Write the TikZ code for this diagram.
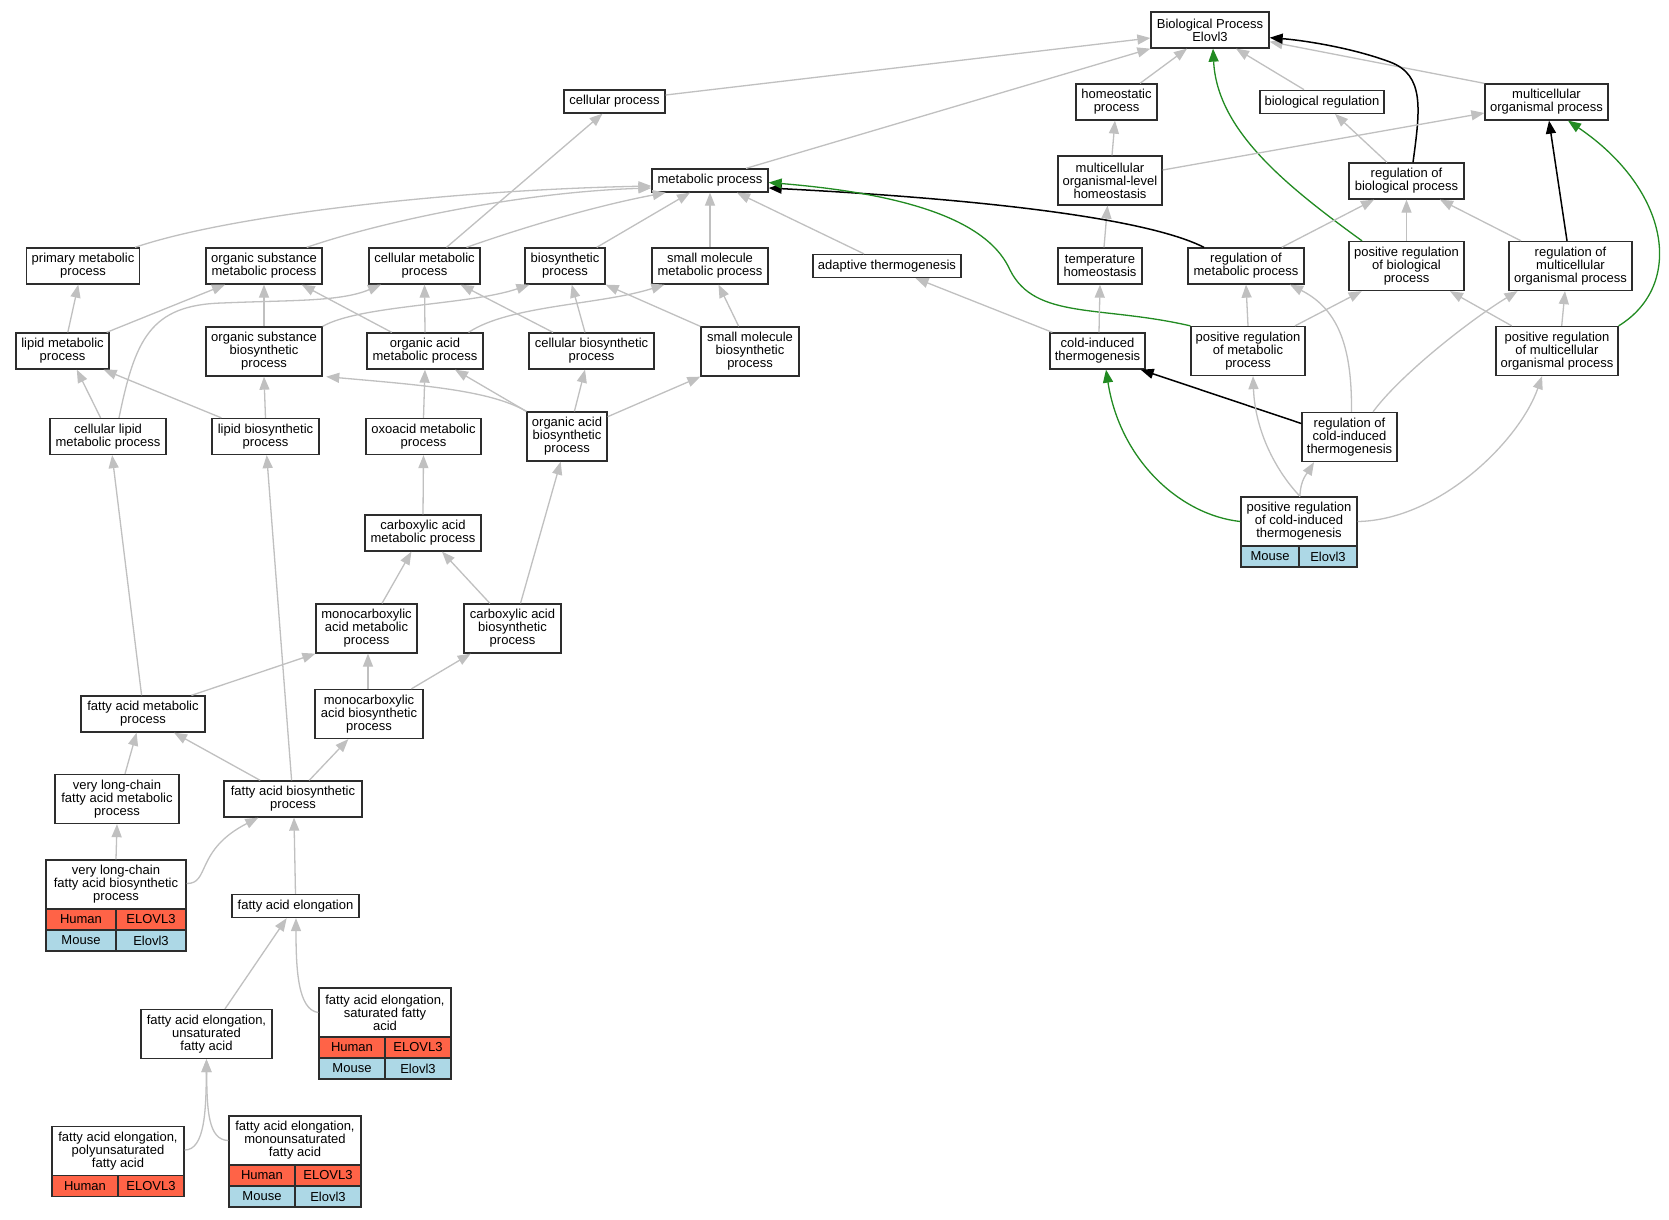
\documentclass[tikz,border=0pt]{standalone}
\usepackage{fontspec}
\setmainfont{Liberation Sans}
\usetikzlibrary{arrows.meta}
\definecolor{edgegray}{RGB}{192,192,192}
\definecolor{gogreen}{RGB}{34,139,34}
\definecolor{humanred}{RGB}{255,99,71}
\definecolor{mouseblue}{RGB}{173,216,230}
\definecolor{boxline}{RGB}{45,45,45}
\begin{document}
\begin{tikzpicture}[x=1pt,y=-1pt,
  gonode/.style={draw=boxline, line width=1.3pt, fill=white, inner sep=0pt, align=center, font=\fontsize{13}{13}\selectfont},
  hcell/.style={gonode, fill=humanred, minimum height=21pt},
  mcell/.style={gonode, fill=mouseblue, minimum height=21pt},
  gedge/.style={draw=edgegray, line width=1.3pt, -{Triangle[length=13pt,width=10pt]}},
  bedge/.style={draw=black, line width=1.5pt, -{Triangle[length=13pt,width=10pt]}},
  gredge/.style={draw=gogreen, line width=1.3pt, -{Triangle[length=13pt,width=10pt]}}]
\fill[white] (0,0) rectangle (1669,1219);
\useasboundingbox (0,0) rectangle (1669,1219);

% ---------- nodes ----------
\node[gonode, minimum width=118pt, minimum height=36pt] (bp) at (1210,30) {Biological Process\\Elovl3};
\node[gonode, minimum width=101pt, minimum height=23pt] (cellproc) at (614.5,101.5) {cellular process};
\node[gonode, minimum width=81pt, minimum height=36pt] (homeo) at (1116.5,102) {homeostatic\\process};
\node[gonode, minimum width=124pt, minimum height=23pt] (bioreg) at (1322,101.8) {biological regulation};
\node[gonode, minimum width=123pt, minimum height=36pt] (mop) at (1546.5,102) {multicellular\\organismal process};
\node[gonode, minimum width=116pt, minimum height=23pt] (mp) at (710,180.5) {metabolic process};
\node[gonode, minimum width=104pt, minimum height=49pt] (molh) at (1110,180.5) {multicellular\\organismal-level\\homeostasis};
\node[gonode, minimum width=115pt, minimum height=36pt] (rbp) at (1406.5,181) {regulation of\\biological process};
\node[gonode, minimum width=113pt, minimum height=36pt] (prim) at (83,266) {primary metabolic\\process};
\node[gonode, minimum width=116pt, minimum height=36pt] (osm) at (264,266) {organic substance\\metabolic process};
\node[gonode, minimum width=111pt, minimum height=36pt] (cm) at (424.5,266) {cellular metabolic\\process};
\node[gonode, minimum width=80pt, minimum height=36pt] (bios) at (565,266) {biosynthetic\\process};
\node[gonode, minimum width=116pt, minimum height=36pt] (smm) at (710,266) {small molecule\\metabolic process};
\node[gonode, minimum width=148pt, minimum height=23pt] (adapt) at (887,266) {adaptive thermogenesis};
\node[gonode, minimum width=84pt, minimum height=36pt] (temph) at (1100,266) {temperature\\homeostasis};
\node[gonode, minimum width=116pt, minimum height=36pt] (rmp) at (1246,266) {regulation of\\metabolic process};
\node[gonode, minimum width=115pt, minimum height=49pt] (prbp) at (1406.5,266) {positive regulation\\of biological\\process};
\node[gonode, minimum width=123pt, minimum height=49pt] (rmop) at (1570.5,266) {regulation of\\multicellular\\organismal process};
\node[gonode, minimum width=93pt, minimum height=36pt] (lm) at (62.5,351) {lipid metabolic\\process};
\node[gonode, minimum width=116pt, minimum height=49pt] (osb) at (264,351.5) {organic substance\\biosynthetic\\process};
\node[gonode, minimum width=116pt, minimum height=36pt] (oam) at (425,351) {organic acid\\metabolic process};
\node[gonode, minimum width=125pt, minimum height=36pt] (cb) at (591.5,351) {cellular biosynthetic\\process};
\node[gonode, minimum width=98pt, minimum height=49pt] (smb) at (750,351.5) {small molecule\\biosynthetic\\process};
\node[gonode, minimum width=95pt, minimum height=36pt] (cit) at (1097.5,351) {cold-induced\\thermogenesis};
\node[gonode, minimum width=114pt, minimum height=49pt] (prmp) at (1248,351) {positive regulation\\of metabolic\\process};
\node[gonode, minimum width=122pt, minimum height=49pt] (prmop) at (1557,351) {positive regulation\\of multicellular\\organismal process};
\node[gonode, minimum width=116pt, minimum height=36pt] (clm) at (108,436.5) {cellular lipid\\metabolic process};
\node[gonode, minimum width=107pt, minimum height=36pt] (lb) at (265.5,436.5) {lipid biosynthetic\\process};
\node[gonode, minimum width=115pt, minimum height=36pt] (oxo) at (423.5,436.5) {oxoacid metabolic\\process};
\node[gonode, minimum width=80pt, minimum height=49pt] (oab) at (567,436.5) {organic acid\\biosynthetic\\process};
\node[gonode, minimum width=95pt, minimum height=49pt] (rcit) at (1349.5,437) {regulation of\\cold-induced\\thermogenesis};
\node[gonode, minimum width=116pt, minimum height=49pt] (prcit) at (1299,521.5) {positive regulation\\of cold-induced\\thermogenesis};
\node[mcell, minimum width=58pt] (prcitM1) at (1270,556.5) {Mouse};
\node[mcell, minimum width=58pt] (prcitM2) at (1328,556.5) {Elovl3};
\node[gonode, minimum width=116pt, minimum height=36pt] (cam) at (423,533) {carboxylic acid\\metabolic process};
\node[gonode, minimum width=101pt, minimum height=49pt] (mam) at (366.5,628.5) {monocarboxylic\\acid metabolic\\process};
\node[gonode, minimum width=97pt, minimum height=49pt] (cab) at (512.5,628.5) {carboxylic acid\\biosynthetic\\process};
\node[gonode, minimum width=124pt, minimum height=36pt] (fam) at (143,714) {fatty acid metabolic\\process};
\node[gonode, minimum width=108pt, minimum height=49pt] (mab) at (369,714) {monocarboxylic\\acid biosynthetic\\process};
\node[gonode, minimum width=124pt, minimum height=49pt] (vlcfam) at (117,799) {very long-chain\\fatty acid metabolic\\process};
\node[gonode, minimum width=138pt, minimum height=36pt] (fab) at (293,799) {fatty acid biosynthetic\\process};
\node[gonode, minimum width=140pt, minimum height=49pt] (vlcfab) at (116,884.5) {very long-chain\\fatty acid biosynthetic\\process};
\node[hcell, minimum width=70pt] (vlcfabH1) at (81,919.5) {Human};
\node[hcell, minimum width=70pt] (vlcfabH2) at (151,919.5) {ELOVL3};
\node[mcell, minimum width=70pt] (vlcfabM1) at (81,940.5) {Mouse};
\node[mcell, minimum width=70pt] (vlcfabM2) at (151,940.5) {Elovl3};
\node[gonode, minimum width=127pt, minimum height=23pt] (fae) at (295.5,906) {fatty acid elongation};
\node[gonode, minimum width=132pt, minimum height=49pt] (faesat) at (385,1012.5) {fatty acid elongation,\\saturated fatty\\acid};
\node[hcell, minimum width=66pt] (faesatH1) at (352,1047.5) {Human};
\node[hcell, minimum width=66pt] (faesatH2) at (418,1047.5) {ELOVL3};
\node[mcell, minimum width=66pt] (faesatM1) at (352,1068.5) {Mouse};
\node[mcell, minimum width=66pt] (faesatM2) at (418,1068.5) {Elovl3};
\node[gonode, minimum width=131pt, minimum height=49pt] (faeuns) at (206.5,1034) {fatty acid elongation,\\unsaturated\\fatty acid};
\node[gonode, minimum width=132pt, minimum height=49pt] (faepoly) at (118,1151) {fatty acid elongation,\\polyunsaturated\\fatty acid};
\node[hcell, minimum width=66pt] (faepolyH1) at (85,1186) {Human};
\node[hcell, minimum width=66pt] (faepolyH2) at (151,1186) {ELOVL3};
\node[gonode, minimum width=132pt, minimum height=49pt] (faemono) at (295,1140.5) {fatty acid elongation,\\monounsaturated\\fatty acid};
\node[hcell, minimum width=66pt] (faemonoH1) at (262,1175.5) {Human};
\node[hcell, minimum width=66pt] (faemonoH2) at (328,1175.5) {ELOVL3};
\node[mcell, minimum width=66pt] (faemonoM1) at (262,1196.5) {Mouse};
\node[mcell, minimum width=66pt] (faemonoM2) at (328,1196.5) {Elovl3};

% ---------- edges: top ----------
\draw[gedge] ([yshift=6.5pt]cellproc.east) -- ([yshift=-8pt]bp.west);
\draw[gedge] ([xshift=36pt]mp.north) -- (bp.south west);
\draw[gedge] ([xshift=23.5pt]homeo.north) -- ([xshift=-23pt]bp.south);
\draw[gedge] ([xshift=-18pt]bioreg.north) -- ([xshift=26pt]bp.south);
\draw[gedge] (mop.north west) -- ([yshift=-11.7pt]bp.east);
\draw[bedge] ([xshift=6.5pt]rbp.north) .. controls (1420,110) and (1425,75) .. (1390,62) .. controls (1350,47) and (1300,40) .. ([yshift=-7.7pt]bp.east);
\draw[gredge] ([xshift=-44.5pt]prbp.north) .. controls (1285,185) and (1217,130) .. ([xshift=3pt]bp.south);
\draw[gedge] ([yshift=10.5pt]molh.east) -- ([yshift=-11pt]mop.west);
\draw[bedge] ([xshift=-3.5pt]rmop.north) -- ([xshift=2.5pt]mop.south);
\draw[gredge] (prmop.north east) .. controls (1685,285) and (1670,190) .. ([xshift=21.5pt]mop.south);
\draw[gedge] ([xshift=2pt]molh.north) -- ([xshift=-1.5pt]homeo.south);
\draw[gedge] ([xshift=-19.5pt]rbp.north) -- ([xshift=13pt]bioreg.south);
\draw[gedge] ([xshift=4pt]temph.north) -- ([xshift=-2.5pt]molh.south);
\draw[gedge] ([xshift=35.7pt]rmp.north) -- ([xshift=-32.5pt]rbp.south);
\draw[gedge] (prbp.north) -- (rbp.south);
\draw[gedge] ([xshift=-49.5pt]rmop.north) -- ([xshift=33.5pt]rbp.south);

% ---------- edges into metabolic process ----------
\draw[gedge] ([xshift=52pt]prim.north) .. controls (230,215) and (450,190) .. ([yshift=-5.5pt]mp.west);
\draw[gedge] ([xshift=42.7pt]osm.north) .. controls (380,222) and (520,192) .. ([yshift=-7.5pt]mp.west);
\draw[gedge] ([xshift=42pt]cm.north) .. controls (530,225) and (600,205) .. ([xshift=-44.3pt]mp.south);
\draw[gedge] ([xshift=31.7pt]bios.north) -- ([xshift=-20pt]mp.south);
\draw[gedge] (smm.north) -- (mp.south);
\draw[gedge] ([xshift=-23pt]adapt.north) -- ([xshift=27pt]mp.south);
\draw[bedge] ([xshift=-42pt]rmp.north) .. controls (1150,220) and (1000,200) .. ([yshift=-7.5pt]mp.east);
\draw[gredge] (prmp.north west) .. controls (1100,305) and (1035,320) .. (1010,270) .. controls (990,225) and (920,195) .. ([yshift=-2pt]mp.east);
\draw[gedge] ([xshift=22pt]cm.north) -- ([xshift=-12pt]cellproc.south);

% ---------- right middle ----------
\draw[gedge] ([xshift=3pt]cit.north west) -- ([xshift=28.5pt]adapt.south);
\draw[gedge] ([xshift=1.5pt]cit.north) -- (temph.south);
\draw[gedge] (prmp.north) -- (rmp.south);
\draw[gedge] ([xshift=2pt]rcit.north) .. controls (1352,350) and (1340,310) .. ([xshift=44pt]rmp.south);
\draw[gedge] ([xshift=47pt]prmp.north) -- ([xshift=-44.8pt]prbp.south);
\draw[gedge] ([xshift=-45.3pt]prmop.north) -- ([xshift=43.5pt]prbp.south);
\draw[gedge] ([xshift=4.7pt]prmop.north) -- ([xshift=-5.5pt]rmop.south);
\draw[gedge] ([xshift=23.5pt]rcit.north) .. controls (1400,375) and (1470,320) .. ([xshift=-53pt]rmop.south);
\draw[bedge] ([yshift=13.5pt]rcit.west) -- ([xshift=-5pt]cit.south east);
\draw[gredge] (prcit.west) .. controls (1180,515) and (1120,460) .. ([xshift=8.5pt]cit.south);
\draw[gedge] ([xshift=1pt]prcit.north) .. controls (1275,470) and (1255,430) .. ([xshift=5pt]prmp.south);
\draw[gedge] ([xshift=1pt]prcit.north) .. controls (1300,480) and (1308,472) .. ([xshift=-35.5pt]rcit.south);
\draw[gedge] (prcit.east) .. controls (1440,520) and (1520,440) .. ([xshift=-15pt]prmop.south);

% ---------- left section ----------
\draw[gedge] ([xshift=5.3pt]lm.north) -- ([xshift=-4.7pt]prim.south);
\draw[gedge] ([xshift=-3pt]lm.north east) -- ([xshift=-39pt]osm.south);
\draw[gedge] (osb.north) -- (osm.south);
\draw[gedge] ([xshift=-33.3pt]oam.north) -- ([xshift=37.7pt]osm.south);
\draw[gedge] ([xshift=11pt]clm.north) .. controls (135,340) and (150,305) .. (222,303) .. controls (290,300) and (340,302) .. ([xshift=-43.5pt]cm.south);
\draw[gedge] (oam.north) -- (cm.south);
\draw[gedge] ([xshift=-38.5pt]cb.north) -- ([xshift=36pt]cm.south);
\draw[gedge] (osb.north east) .. controls (360,305) and (470,305) .. ([xshift=-35.6pt]bios.south);
\draw[gedge] ([xshift=-6.5pt]cb.north) -- ([xshift=6.7pt]bios.south);
\draw[gedge] (smb.north west) -- (bios.south east);
\draw[gedge] ([xshift=43.5pt]oam.north) .. controls (510,305) and (600,305) .. ([xshift=-45.6pt]smm.south);
\draw[gedge] ([xshift=-11.3pt]smb.north) -- ([xshift=8.5pt]smm.south);
\draw[gedge] ([xshift=-7.4pt]clm.north) -- ([xshift=14.3pt]lm.south);
\draw[gedge] ([xshift=10pt]lb.north west) -- ([xshift=-6pt]lm.south east);
\draw[gedge] (lb.north) -- (osb.south);
\draw[gedge] (oab.north west) .. controls (490,390) and (420,385) .. ([xshift=3.6pt]osb.south east);
\draw[gedge] (oxo.north) -- (oam.south);
\draw[gedge] (oab.north west) -- ([xshift=30pt]oam.south);
\draw[gedge] ([xshift=7.4pt]oab.north) -- ([xshift=-6.5pt]cb.south);
\draw[gedge] ([yshift=19.8pt]oab.east) -- (smb.south west);
\draw[gedge] (cam.north) -- (oxo.south);
\draw[gedge] ([xshift=8pt]cab.north) -- ([xshift=-6.3pt]oab.south);
\draw[gedge] ([xshift=-1.4pt]fam.north) -- ([xshift=4.1pt]clm.south);
\draw[gedge] ([xshift=-1.4pt]fab.north) -- ([xshift=1.2pt]lb.south);
\draw[gedge] ([xshift=15.5pt]mam.north) -- ([xshift=-11.6pt]cam.south);
\draw[gedge] ([xshift=-22.6pt]cab.north) -- ([xshift=19pt]cam.south);
\draw[gedge] ([xshift=48.4pt]fam.north) -- (mam.south west);
\draw[gedge] ([xshift=-1pt]mab.north) -- ([xshift=1.5pt]mam.south);
\draw[gedge] ([xshift=42.4pt]mab.north) -- ([xshift=-41.8pt]cab.south);
\draw[gedge] ([xshift=8pt]vlcfam.north) -- ([xshift=-6.4pt]fam.south);
\draw[gedge] ([xshift=-32.8pt]fab.north) -- ([xshift=31pt]fam.south);
\draw[gedge] ([xshift=16.2pt]fab.north) -- ([xshift=-20.7pt]mab.south);
\draw[gedge] (vlcfab.north) -- (vlcfam.south);
\draw[gedge] ([yshift=1pt]vlcfab.east) .. controls (210,884) and (195,850) .. ([xshift=-34.7pt]fab.south);
\draw[gedge] (fae.north) -- ([xshift=1pt]fab.south);
\draw[gedge] ([xshift=18.5pt]faeuns.north) -- ([xshift=-8.8pt]fae.south);
\draw[gedge] (faesat.west) .. controls (298,1010) and (296,970) .. ([xshift=0.5pt]fae.south);
\draw[gedge] ([yshift=1pt]faepoly.east) .. controls (205,1150) and (206,1110) .. (faeuns.south);
\draw[gedge] (faemono.west) .. controls (208,1140) and (207,1110) .. (faeuns.south);
\end{tikzpicture}
\end{document}
